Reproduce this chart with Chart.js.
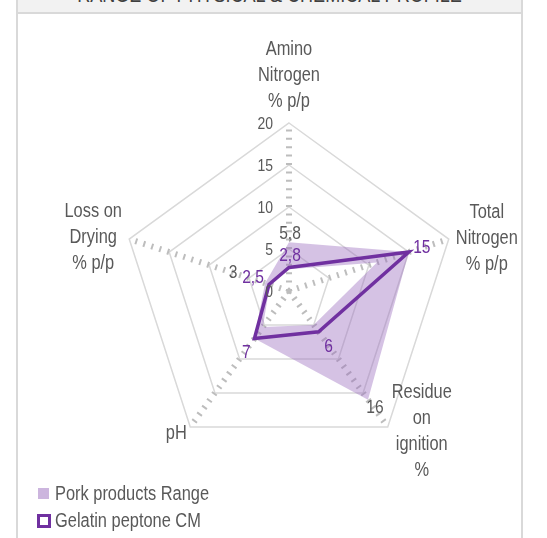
<!DOCTYPE html>
<html lang="en">
<head>
  <meta charset="UTF-8" />
  <title>Range of physical & chemical profile</title>
  <script src="https://cdn.jsdelivr.net/npm/chart.js"></script>
  <style>
    body {
      margin: 0;
      width: 547px;
      height: 538px;
      background: #fff;
      position: relative;
      overflow: hidden;
      font-family: 'Liberation Sans', Arial, sans-serif;
    }
    .frame {
      position: absolute;
      left: 16px;
      top: 0;
      width: 503px;
      height: 538px;
      border-left: 2px solid #d9d9d9;
      border-right: 2px solid #d9d9d9;
    }
    .title-box {
      position: absolute;
      left: 0;
      right: 0;
      top: 0;
      height: 12px;
      background: #f2f2f2;
      border-bottom: 2px solid #d9d9d9;
      overflow: hidden;
    }
    .title-box span {
      position: absolute;
      left: 0;
      right: 0;
      top: -16px;
      text-align: center;
      font-size: 22px;
      line-height: 22px;
      color: #404040;
      white-space: nowrap;
      transform: scaleX(0.82);
    }
    canvas {
      position: absolute;
      left: 0;
      top: 0;
    }
  </style>
</head>
<body>
  <div class="frame">
    <div class="title-box"><span>RANGE OF PHYSICAL &amp; CHEMICAL PROFILE</span></div>
  </div>
  <canvas id="radar" width="547" height="538"></canvas>

  <script>
    // axes of the radar (multi-line labels)
    const axisLabels = [
      ['Amino', 'Nitrogen', '% p/p'],
      ['Total', 'Nitrogen', '% p/p'],
      ['Residue', 'on', 'ignition', '%'],
      ['pH'],
      ['Loss on', 'Drying', '% p/p']
    ];
    const gelatinCM = [2.8, 15, 6, 7, 2.5];
    const porkMax = [5.8, 15, 16, 7, 3];
    const porkMin = [2.6, 11, 5, 5.3, 2.4];
    const seriesNames = ['Pork products Range', 'Gelatin peptone CM'];

    const FONT = "'Liberation Sans', Arial, sans-serif";
    const NARROW = 0.82; // squeeze to look like a narrow face
    const PURPLE = '#7030a0';
    const TEXT = '#595959';

    // where each text block sits relative to its axis end / data point
    const axisLabelOffsets = [[0, -48], [38, -1], [34, 5], [-14, 7], [-36, -2]];
    const gelatinLabelOffsets = [[1, -12], [13, -4], [10, 15], [-8, 14], [-16, -7]];
    const porkLabelOffsets = [[1, -9], [13, -4], [7, 8], [-8, 14], [-32, -10]];

    const fmt = v => String(v).replace('.', ',');

    function narrowText(ctx, s, x, y) {
      ctx.save();
      ctx.translate(x, y);
      ctx.scale(NARROW, 1);
      ctx.fillText(s, 0, 0);
      ctx.restore();
    }

    const textPlugin = {
      id: 'texts',
      afterDraw(chart) {
        const ctx = chart.ctx;
        const r = chart.scales.r;
        ctx.save();
        ctx.textBaseline = 'middle';

        // tick labels on the top axis, left of it
        ctx.font = '17px ' + FONT;
        ctx.fillStyle = TEXT;
        ctx.textAlign = 'right';
        r.ticks.forEach(t => {
          const p = r.getPointPositionForValue(0, t.value);
          narrowText(ctx, t.label, p.x - 16, p.y + 1);
        });

        // axis titles
        ctx.font = '20px ' + FONT;
        ctx.textAlign = 'center';
        axisLabels.forEach((lines, i) => {
          const p = r.getPointPositionForValue(i, r.max);
          const cx = p.x + axisLabelOffsets[i][0];
          const cy = p.y + axisLabelOffsets[i][1];
          const lh = 26;
          const y0 = cy - (lines.length - 1) * lh / 2;
          lines.forEach((s, k) => narrowText(ctx, s, cx, y0 + k * lh));
        });

        // data labels
        ctx.font = '19px ' + FONT;
        porkMax.forEach((v, i) => {
          if (v === gelatinCM[i]) return;
          const p = r.getPointPositionForValue(i, v);
          ctx.fillStyle = TEXT;
          narrowText(ctx, fmt(v), p.x + porkLabelOffsets[i][0], p.y + porkLabelOffsets[i][1]);
        });
        gelatinCM.forEach((v, i) => {
          const p = r.getPointPositionForValue(i, v);
          ctx.fillStyle = PURPLE;
          narrowText(ctx, fmt(v), p.x + gelatinLabelOffsets[i][0], p.y + gelatinLabelOffsets[i][1]);
        });

        // legend
        ctx.textAlign = 'left';
        ctx.font = '20px ' + FONT;
        ctx.fillStyle = '#ccb5de';
        ctx.fillRect(38, 488, 11, 11);
        ctx.fillStyle = TEXT;
        narrowText(ctx, seriesNames[0], 55, 494);
        ctx.strokeStyle = PURPLE;
        ctx.lineWidth = 3;
        ctx.strokeRect(38.5, 515.5, 11, 11);
        narrowText(ctx, seriesNames[1], 55, 521);
        ctx.restore();
      }
    };

    new Chart(document.getElementById('radar'), {
      type: 'radar',
      data: {
        labels: axisLabels,
        datasets: [
          {
            label: seriesNames[1],
            data: gelatinCM,
            borderColor: PURPLE,
            borderWidth: 3.5,
            pointRadius: 0,
            fill: false
          },
          {
            label: seriesNames[0],
            data: porkMax,
            borderWidth: 0,
            borderColor: 'rgba(0,0,0,0)',
            backgroundColor: 'rgba(155,110,190,0.42)',
            pointRadius: 0,
            fill: '+1'
          },
          {
            label: 'min',
            data: porkMin,
            borderWidth: 0,
            borderColor: 'rgba(0,0,0,0)',
            pointRadius: 0,
            fill: false
          }
        ]
      },
      options: {
        responsive: false,
        animation: false,
        layout: { padding: { left: 121, right: 90, top: 123, bottom: 79 } },
        plugins: {
          legend: { display: false },
          tooltip: { enabled: false }
        },
        scales: {
          r: {
            min: 0,
            max: 20,
            ticks: { stepSize: 5, display: false },
            grid: { color: '#d9d9d9', lineWidth: 1.5 },
            angleLines: { color: '#bdbdbd', lineWidth: 6, borderDash: [2, 6.4] },
            pointLabels: { display: false }
          }
        }
      },
      plugins: [textPlugin]
    });
  </script>
</body>
</html>
